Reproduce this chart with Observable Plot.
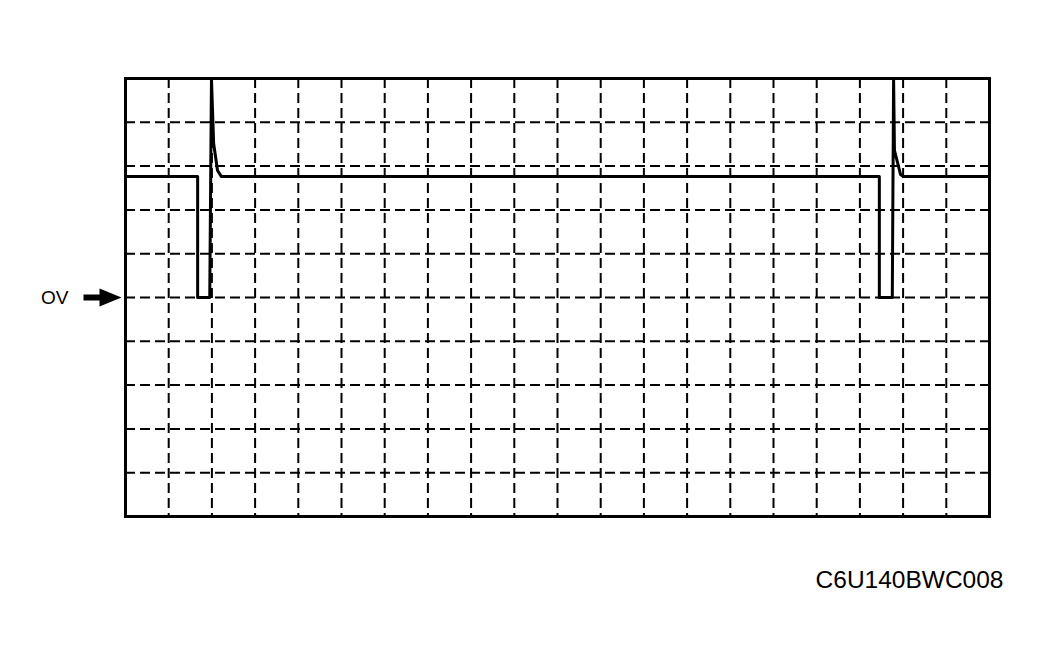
<!DOCTYPE html>
<html><head><meta charset="utf-8">
<script src="https://cdn.jsdelivr.net/npm/d3@7"></script>
<script src="https://cdn.jsdelivr.net/npm/@observablehq/plot@0.6"></script>
<style>body{margin:0;background:#fff}#chart svg{display:block}</style>
</head><body><div id="chart"></div>
<script>
// Grid divisions (oscilloscope screen: 20 horizontal x 10 vertical divisions)
const xGrid = [1,2,3,4,5,6,7,8,9,10,11,12,13,14,15,16,17,18,19];
const yGrid = [-4,-3,-2,-1,0,1,2,3,4];
// Signal trace, in divisions (time) and divisions (voltage, 0 = 0V)
const timeDiv = [0, 1.67, 1.67, 1.95, 1.99, 2.04, 2.13, 2.22, 17.45, 17.45, 17.75, 17.78, 17.80, 17.94, 18.01, 20];
const voltDiv = [2.76, 2.76, 0, 0, 5, 3.52, 2.90, 2.76, 2.76, 0, 0, 5, 3.36, 2.81, 2.76, 2.76];
const zeroMarker = [{label: "OV", y: 0}];
const caption = ["C6U140BWC008"];

const trace = timeDiv.map((t, i) => ({t, v: voltDiv[i]}));
const font = "'Liberation Sans', Arial, sans-serif";

const arrowSymbol = {
  draw(ctx) {
    ctx.moveTo(-19, -3); ctx.lineTo(-3, -3); ctx.lineTo(-3, -9);
    ctx.lineTo(19, 0); ctx.lineTo(-3, 9); ctx.lineTo(-3, 3);
    ctx.lineTo(-19, 3); ctx.closePath();
  }
};

const chart = Plot.plot({
  width: 1041, height: 662,
  marginLeft: 125, marginRight: 52, marginTop: 78, marginBottom: 146,
  style: {fontFamily: font, background: "#fff"},
  x: {domain: [0, 20], axis: null},
  y: {domain: [-5, 5], axis: null},
  marks: [
    Plot.ruleX(xGrid, {stroke: "black", strokeWidth: 2, strokeDasharray: "10,5"}),
    Plot.ruleY(yGrid, {stroke: "black", strokeWidth: 2, strokeDasharray: "10,5"}),
    Plot.line(trace, {x: "t", y: "v", stroke: "black", strokeWidth: 3, strokeLinejoin: "round"}),
    Plot.frame({stroke: "black", strokeWidth: 3}),
    Plot.text(zeroMarker, {y: "y", text: "label", frameAnchor: "left", textAnchor: "end", dx: -57, fontSize: 19, fill: "black"}),
    Plot.dot(zeroMarker, {y: "y", frameAnchor: "left", dx: -23, symbol: arrowSymbol, fill: "black", stroke: "none", r: 5}),
    Plot.text(caption, {text: d => d, frameAnchor: "bottom-right", textAnchor: "end", lineAnchor: "bottom", dx: 14, dy: 71, fontSize: 24.5, fill: "black"})
  ]
});
document.getElementById("chart").append(chart);
</script>
</body></html>
